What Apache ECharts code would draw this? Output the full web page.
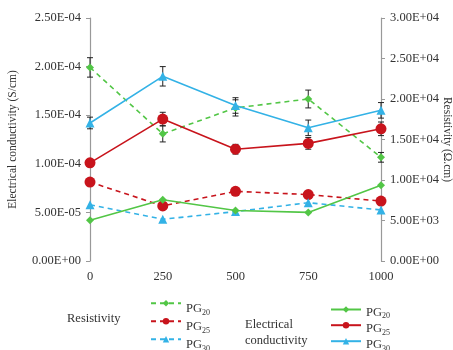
<!DOCTYPE html>
<html><head><meta charset="utf-8">
<script src="https://cdn.jsdelivr.net/npm/echarts@6/dist/echarts.min.js"></script>
<style>html,body{margin:0;padding:0;background:#fff}#c{width:453px;height:350px}</style>
</head><body><div id="c"></div>
<script>
// ---- data ----
var xValues = [0, 250, 500, 750, 1000];
var xTicks = ['0', '250', '500', '750', '1000'];
var leftTicks = ['0.00E+00', '5.00E-05', '1.00E-04', '1.50E-04', '2.00E-04', '2.50E-04'];
var rightTicks = ['0.00E+00', '5.00E+03', '1.00E+04', '1.50E+04', '2.00E+04', '2.50E+04', '3.00E+04'];
// Electrical conductivity (S/cm), left axis, solid lines
var ecPG20 = [4.2e-5, 6.3e-5, 5.2e-5, 5.0e-5, 7.8e-5];
var ecPG25 = [1.01e-4, 1.46e-4, 1.15e-4, 1.21e-4, 1.36e-4];
var ecPG30 = [1.42e-4, 1.90e-4, 1.60e-4, 1.37e-4, 1.55e-4];
// Resistivity (Ω.cm), right axis, dashed lines
var resPG20 = [23900, 15700, 18900, 20000, 12800];
var resPG25 = [9750, 6800, 8600, 8200, 7400];
var resPG30 = [6950, 5150, 6100, 7200, 6300];
// error bars (±)
var errResPG20 = [1200, 1000, 1000, 1100, 600];
var errEcPG25 = [0, 7e-6, 5e-6, 6e-6, 7e-6];
var errEcPG30 = [6e-6, 1.0e-5, 8e-6, 8e-6, 8e-6];

var GREEN = '#52c646', RED = '#c8141c', BLUE = '#33b2e6';
var FONT = '"Liberation Serif", "DejaVu Serif", serif';

function pairs(vals) { return xValues.map(function (x, i) { return [x, vals[i]]; }); }
function errData(vals, errs) {
  return xValues.map(function (x, i) { return [x, vals[i] - errs[i], vals[i] + errs[i]]; })
    .filter(function (d, i) { return errs[i] > 0; });
}
function errSeries(vals, errs, yIdx) {
  return {
    type: 'custom', yAxisIndex: yIdx, z: 1, silent: true,
    data: errData(vals, errs),
    renderItem: function (params, api) {
      var x = api.value(0);
      var lo = api.coord([x, api.value(1)]);
      var hi = api.coord([x, api.value(2)]);
      var w = 3;
      var st = { stroke: '#222', lineWidth: 1 };
      return { type: 'group', children: [
        { type: 'line', shape: { x1: lo[0], y1: lo[1], x2: hi[0], y2: hi[1] }, style: st },
        { type: 'line', shape: { x1: lo[0] - w, y1: lo[1], x2: lo[0] + w, y2: lo[1] }, style: st },
        { type: 'line', shape: { x1: hi[0] - w, y1: hi[1], x2: hi[0] + w, y2: hi[1] }, style: st }
      ]};
    }
  };
}
function lineSeries(name, vals, color, yIdx, dashed, symbol, size) {
  return {
    name: name, type: 'line', yAxisIndex: yIdx, data: pairs(vals),
    symbol: symbol, symbolSize: size, z: 3,
    lineStyle: { color: color, width: 1.6, type: dashed ? [5, 4] : 'solid' },
    itemStyle: { color: color }
  };
}
function idxOf(arr, v, step) { return Math.round(v / step); }

var subs = { 'R20': '20', 'R25': '25', 'R30': '30', 'C20': '20', 'C25': '25', 'C30': '30' };
function legendItem(name, left, top, shift) {
  return {
    data: [name], left: left, top: top, padding: 0,
    itemWidth: 30, itemHeight: 8, itemGap: 0,
    formatter: function (n) { return '{a|PG}{s|' + subs[n] + '}'; },
    textStyle: { rich: {
      a: { fontFamily: FONT, fontSize: 12.5, color: '#333', padding: [shift, 0, 0, 0] },
      s: { fontFamily: FONT, fontSize: 8, color: '#333', padding: [shift + 7, 0, 0, 0] }
    } }
  };
}

var chart = echarts.init(document.getElementById('c'), null, { renderer: 'canvas' });
chart.setOption({
  animation: false,
  textStyle: { fontFamily: FONT },
  grid: { left: 90, right: 72, top: 18, bottom: 89, containLabel: false, outerBoundsMode: 'none' },
  xAxis: {
    type: 'value', min: 0, max: 1000, interval: 250,
    axisLine: { show: false }, axisTick: { show: false }, splitLine: { show: false },
    axisLabel: { color: '#333', fontSize: 12.5, fontFamily: FONT, margin: 9,
      formatter: function (v) { return xTicks[idxOf(xTicks, v, 250)]; } }
  },
  yAxis: [{
    type: 'value', min: 0, max: 2.5e-4, interval: 5e-5, position: 'left',
    name: 'Electrical conductivity (S/cm)', nameLocation: 'middle', nameGap: 71, nameRotate: 90,
    nameMoveOverlap: false,
    nameTextStyle: { color: '#333', fontSize: 11.5, fontFamily: FONT },
    axisLine: { show: true, lineStyle: { color: '#999', width: 1.2 } },
    axisTick: { show: true, inside: false, length: 4, lineStyle: { color: '#999' } },
    splitLine: { show: false },
    axisLabel: { color: '#333', fontSize: 12.5, fontFamily: FONT, margin: 9,
      formatter: function (v) { return leftTicks[idxOf(leftTicks, v, 5e-5)]; } }
  }, {
    type: 'value', min: 0, max: 30000, interval: 5000, position: 'right',
    name: 'Resistivity (Ω.cm)', nameLocation: 'middle', nameGap: 60, nameRotate: -90,
    nameMoveOverlap: false,
    nameTextStyle: { color: '#333', fontSize: 11.5, fontFamily: FONT },
    axisLine: { show: true, lineStyle: { color: '#999', width: 1.2 } },
    axisTick: { show: true, inside: false, length: 4, lineStyle: { color: '#999' } },
    splitLine: { show: false },
    axisLabel: { color: '#333', fontSize: 12.5, fontFamily: FONT, margin: 9,
      formatter: function (v) { return rightTicks[idxOf(rightTicks, v, 5000)]; } }
  }],
  legend: [
    legendItem('R20', 150, 300, 12),
    legendItem('R25', 150, 318, 12),
    legendItem('R30', 150, 336, 12),
    legendItem('C20', 330, 306, 6),
    legendItem('C25', 330, 322, 8),
    legendItem('C30', 330, 338, 8)
  ],
  graphic: [
    { type: 'text', left: 67, top: 312, style: { text: 'Resistivity', font: '12.5px ' + FONT, fill: '#333' } },
    { type: 'text', left: 245, top: 317, style: { text: 'Electrical\nconductivity', font: '12.5px ' + FONT, fill: '#333', lineHeight: 16 } }
  ],
  series: [
    errSeries(resPG20, errResPG20, 1),
    errSeries(ecPG25, errEcPG25, 0),
    errSeries(ecPG30, errEcPG30, 0),
    lineSeries('R20', resPG20, GREEN, 1, true, 'diamond', 8),
    lineSeries('R25', resPG25, RED, 1, true, 'circle', 11),
    lineSeries('R30', resPG30, BLUE, 1, true, 'triangle', 9),
    lineSeries('C20', ecPG20, GREEN, 0, false, 'diamond', 8),
    lineSeries('C25', ecPG25, RED, 0, false, 'circle', 11),
    lineSeries('C30', ecPG30, BLUE, 0, false, 'triangle', 9)
  ]
});
</script></body></html>
